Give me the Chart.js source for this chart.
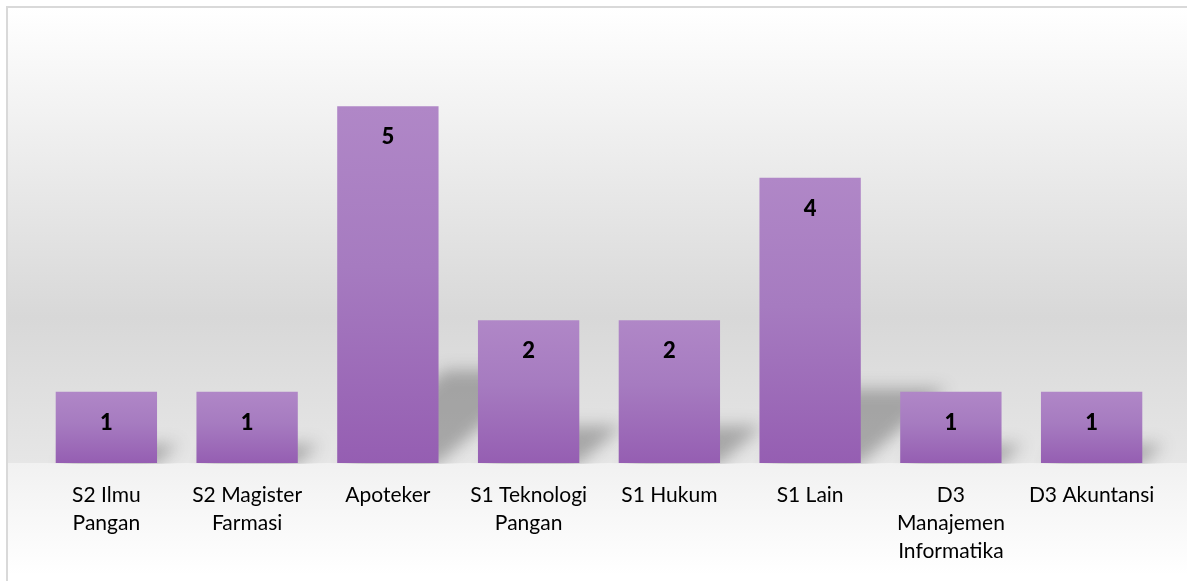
<!DOCTYPE html>
<html>
<head>
<meta charset="utf-8">
<script src="https://cdn.jsdelivr.net/npm/chart.js@4.4.0/dist/chart.umd.min.js"></script>
<style>
  html, body { margin: 0; padding: 0; background: #ffffff; }
  #wrap { position: relative; width: 1187px; height: 581px; }
</style>
</head>
<body>
<div id="wrap"><canvas id="c"></canvas></div>
<script>
const categories = [
  ["S2 Ilmu", "Pangan"],
  ["S2 Magister", "Farmasi"],
  "Apoteker",
  ["S1 Teknologi", "Pangan"],
  "S1 Hukum",
  "S1 Lain",
  ["D3", "Manajemen", "Informatika"],
  "D3 Akuntansi"
];
const values = [1, 1, 5, 2, 2, 4, 1, 1];
const yMin = 0;
const yMax = 6;

const FONT = "Lato, 'Liberation Sans', sans-serif";

const backgroundPlugin = {
  id: 'bg',
  beforeDraw(chart) {
    const { ctx, width, height, chartArea } = chart;
    ctx.save();
    const top = 8, base = chartArea.bottom;
    let g = ctx.createLinearGradient(0, top, 0, base);
    g.addColorStop(0, '#ffffff');
    g.addColorStop(0.68, '#d8d8d8');
    g.addColorStop(1, '#e6e6e6');
    ctx.fillStyle = g;
    ctx.fillRect(7, top, width - 7, base - top);
    g = ctx.createLinearGradient(0, base, 0, height - 6);
    g.addColorStop(0, '#f1f1f1');
    g.addColorStop(1, '#ffffff');
    ctx.fillStyle = g;
    ctx.fillRect(7, base, width - 7, height - base);
    ctx.strokeStyle = '#d9d9d9';
    ctx.lineWidth = 2;
    ctx.strokeRect(7, 7, width + 10, height + 10);
    ctx.restore();
  }
};

const shadowPlugin = {
  id: 'shadow',
  beforeDatasetsDraw(chart) {
    const { ctx, chartArea } = chart;
    const meta = chart.getDatasetMeta(0);
    const OFF = 5000;
    ctx.save();
    ctx.beginPath();
    ctx.rect(chartArea.left - 40, 0, chartArea.right - chartArea.left + 80, chartArea.bottom + 1);
    ctx.clip();
    ctx.shadowColor = 'rgba(80,80,80,0.42)';
    ctx.shadowBlur = 16;
    ctx.shadowOffsetX = OFF;
    ctx.shadowOffsetY = 0;
    ctx.fillStyle = '#000000';
    meta.data.forEach(el => {
      const l = el.x - el.width / 2, r = el.x + el.width / 2;
      const h = el.base - el.y;
      const dx = 0.3 * h, dy = 0.26 * h;
      ctx.beginPath();
      ctx.moveTo(l + 6 - OFF, el.base + 2);
      ctx.lineTo(r - 2 - OFF, el.base + 2);
      ctx.lineTo(r + dx - OFF, el.base - dy);
      ctx.lineTo(l + dx - OFF, el.base - dy);
      ctx.closePath();
      ctx.fill();
    });
    ctx.restore();
  }
};

const labelPlugin = {
  id: 'vlabels',
  afterDatasetsDraw(chart) {
    const { ctx } = chart;
    const meta = chart.getDatasetMeta(0);
    ctx.save();
    ctx.font = "900 22px " + FONT;
    ctx.fillStyle = '#000000';
    ctx.textAlign = 'center';
    ctx.textBaseline = 'middle';
    meta.data.forEach((el, i) => {
      ctx.fillText(String(values[i]), el.x, el.y + 31);
    });
    ctx.restore();
  }
};

function barGradient(context) {
  const chart = context.chart;
  const { chartArea, scales } = chart;
  if (!chartArea) return '#a57cc0';
  const v = values[context.dataIndex];
  const yTop = scales.y.getPixelForValue(v);
  const yBase = scales.y.getPixelForValue(0);
  const g = chart.ctx.createLinearGradient(0, yTop, 0, yBase);
  g.addColorStop(0, '#b087c7');
  g.addColorStop(0.45, '#a67bc0');
  g.addColorStop(1, '#955eb2');
  return g;
}

new Chart(document.getElementById('c'), {
  type: 'bar',
  data: {
    labels: categories,
    datasets: [{
      data: values,
      backgroundColor: barGradient,
      borderWidth: 0,
      categoryPercentage: 1.0,
      barPercentage: 0.72
    }]
  },
  options: {
    responsive: true,
    maintainAspectRatio: false,
    animation: false,
    layout: { padding: { left: 36, right: 25, top: 35, bottom: 0 } },
    plugins: { legend: { display: false }, tooltip: { enabled: false } },
    scales: {
      x: {
        grid: { display: false, drawTicks: false },
        border: { display: false },
        ticks: {
          color: '#000000',
          font: { family: FONT, size: 21, lineHeight: 1.33 },
          padding: 18,
          maxRotation: 0,
          autoSkip: false
        },
        afterFit(scale) { scale.height = 118; }
      },
      y: {
        display: false,
        min: yMin,
        max: yMax
      }
    }
  },
  plugins: [backgroundPlugin, shadowPlugin, labelPlugin]
});
</script>
</body>
</html>
